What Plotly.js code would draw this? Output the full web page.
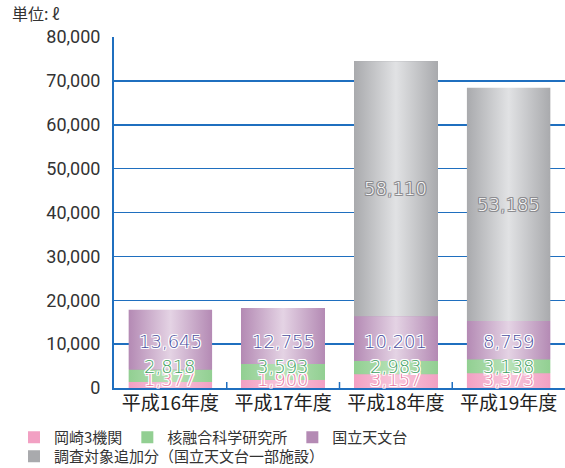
<!DOCTYPE html>
<html><head><meta charset="utf-8">
<script src="https://cdn.plot.ly/plotly-3.0.1.min.js"></script>
<style>html,body{margin:0;padding:0;background:#fff}</style>
</head><body><div id="chart" style="width:565px;height:468px"></div>
<script>
// ---- data ----
const categories = ['平成16年度', '平成17年度', '平成18年度', '平成19年度'];
const seriesNames = ['岡崎3機関', '核融合科学研究所', '国立天文台', '調査対象追加分（国立天文台一部施設）'];
const okazaki = [1377, 1900, 3157, 3373];
const nifs = [2818, 3593, 2983, 3138];
const naoj = [13645, 12755, 10201, 8759];
const added = [0, 0, 58110, 53185];
const yTickVals = [0, 10000, 20000, 30000, 40000, 50000, 60000, 70000, 80000];
const unitLabel = '単位: ℓ';

// ---- style ----
const series = [okazaki, nifs, naoj, added];
const blue = '#1f6fbf';
const edge = ['#f2a0c3', '#92cf92', '#b48ab4', '#a9aaad'];
const mid = ['#f8c8dc', '#b8e2b8', '#e4d3e4', '#e1e2e4'];
const labelColor = ['#ea76a2', '#3ea062', '#4b4f9e', '#ffffff'];
const labelOutline = ['#ffffff', '#ffffff', '#ffffff', '#8c8c90'];
const labelY = [1900, 4800, 10600, null]; // fixed label heights (null = centred)
const legendOf = ['legend', 'legend', 'legend', 'legend2'];
const hw = 0.37;
const xs = categories.map((c, i) => i);

const traces = [];
series.forEach((vals, s) => {
  traces.push({
    type: 'bar', x: xs, y: vals, name: seriesNames[s], width: 2 * hw, legend: legendOf[s],
    marker: {color: edge[s], line: {width: 0}}, hoverinfo: 'skip'
  });
});
const annotations = [];
xs.forEach(i => {
  let base = 0;
  series.forEach((vals, s) => {
    const v = vals[i];
    if (v > 0) {
      traces.push({
        type: 'scatter', mode: 'lines', line: {width: 0}, showlegend: false, hoverinfo: 'skip',
        x: [i - hw, i + hw, i + hw, i - hw, i - hw],
        y: [base, base, base + v, base + v, base],
        fill: 'toself',
        fillgradient: {type: 'horizontal', start: i - hw, stop: i + hw,
          colorscale: [[0, edge[s]], [0.5, mid[s]], [1, edge[s]]]}
      });
      const o = labelOutline[s];
      annotations.push({
        x: i, y: labelY[s] === null ? base + v / 2 : labelY[s], xref: 'x', yref: 'y',
        text: v.toLocaleString('en-US'), showarrow: false,
        font: {family: 'DejaVu Sans', size: 18, weight: 300, color: labelColor[s],
          shadow: `1px 0 0 ${o}, -1px 0 0 ${o}, 0 1px 0 ${o}, 0 -1px 0 ${o}, 1px 1px 0 ${o}, -1px -1px 0 ${o}, 1px -1px 0 ${o}, -1px 1px 0 ${o}`}
      });
    }
    base += v;
  });
});
annotations.push({
  text: unitLabel, showarrow: false, xref: 'paper', yref: 'paper',
  x: (10 - 114) / 451, y: (388 - 13) / 351, xanchor: 'left', yanchor: 'middle',
  font: {family: 'Noto Sans CJK JP', size: 16, color: '#333'}
});
const shapes = xs.slice(1).map(i => ({
  type: 'line', xref: 'x', yref: 'paper', x0: i - 0.5, x1: i - 0.5, y0: 0, y1: 6 / 351,
  line: {color: blue, width: 1.5}
}));

const legendFont = {family: 'Noto Sans CJK JP', size: 15, color: '#333'};
const layout = {
  width: 565, height: 468,
  margin: {l: 114, r: 0, t: 37, b: 80},
  barmode: 'stack', bargap: 0,
  paper_bgcolor: '#fff', plot_bgcolor: '#fff',
  showlegend: true,
  legend: {orientation: 'h', xref: 'container', yref: 'container', x: 14 / 565, y: 1 - 421 / 468,
    xanchor: 'left', yanchor: 'top', traceorder: 'normal', font: legendFont,
    bgcolor: 'rgba(0,0,0,0)', borderwidth: 0},
  legend2: {orientation: 'h', xref: 'container', yref: 'container', x: 14 / 565, y: 1 - 440 / 468,
    xanchor: 'left', yanchor: 'top', font: legendFont, bgcolor: 'rgba(0,0,0,0)', borderwidth: 0},
  xaxis: {range: [-0.5, 3.5], tickmode: 'array', tickvals: xs, ticktext: categories,
    showgrid: false, zeroline: false, showline: true, linecolor: blue, linewidth: 2,
    ticks: '', ticklabelstandoff: -3,
    tickfont: {family: 'Noto Sans CJK JP', size: 19, color: '#222'}},
  yaxis: {range: [0, 80000], tickmode: 'array', tickvals: yTickVals, tickformat: ',d',
    showgrid: true, gridcolor: blue, gridwidth: 1.5, zeroline: false,
    showline: true, linecolor: blue, linewidth: 2, ticks: '', ticklabelstandoff: 8,
    tickfont: {family: 'Roboto', size: 18, color: '#333'}},
  shapes: shapes,
  annotations: annotations
};
Plotly.newPlot('chart', traces, layout, {displayModeBar: false, staticPlot: true});
</script></body></html>
